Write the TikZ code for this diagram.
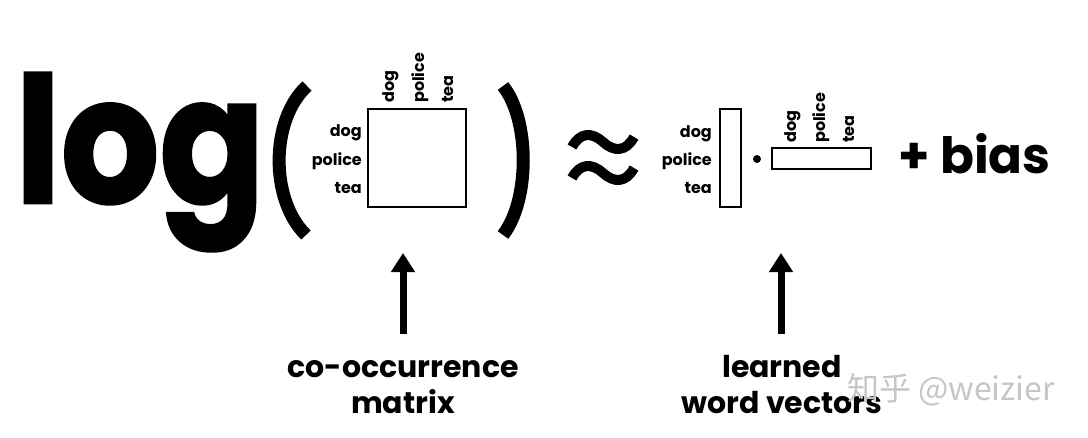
\documentclass[tikz,border=0pt]{standalone}
\usepackage{fontspec}
\setmainfont{Poppins}
\newfontfamily\heavy{Poppins}[BoldFeatures={FakeBold=1.5}]
\newfontfamily\cjk{Noto Sans CJK SC}
\usetikzlibrary{arrows.meta}
\begin{document}
\begin{tikzpicture}[x=1pt,y=-1pt,
  lbl/.style={font=\fontsize{16}{16}\selectfont\bfseries, inner sep=0pt},
  collbl/.style={lbl, rotate=90, anchor=base west},
  rowlbl/.style={lbl, anchor=base east},
  box/.style={draw, line width=2pt, inner sep=0pt},
  paren/.style={line width=13pt},
  wave/.style={line width=10pt},
  uparrow/.style={line width=7pt, -{Triangle[length=19pt,width=23pt]}},
  caption/.style={font=\fontsize{30}{36}\selectfont\bfseries, inner sep=0pt, anchor=base}]
\fill[white] (0,0) rectangle (1088,437);
\useasboundingbox (0,0) rectangle (1088,437);

% log(
\node[anchor=base west, inner sep=0pt, font=\fontsize{176}{176}\selectfont\heavy\bfseries] (log) at (15,203) {\scalebox{0.88}[1]{log}};
\draw[paren] (307,86) .. controls (270,120) and (270,200) .. (306,235);
\draw[paren] (503,86) .. controls (530,120) and (530,200) .. (503,235);

% co-occurrence matrix
\node[box, minimum width=98pt, minimum height=98pt] (M) at (417,158) {};
\node[rowlbl] (mr1) at (362,136) {dog};
\node[rowlbl] (mr2) at (362,165) {police};
\node[rowlbl] (mr3) at (362,193) {tea};
\node[collbl] (mc1) at (394,103) {dog};
\node[collbl] (mc2) at (424,103) {police};
\node[collbl] (mc3) at (453,103) {tea};

% approx
\draw[wave] (572,147) .. controls (580,132) and (592,132) .. (603,142) .. controls (614,152) and (626,152) .. (634,137);
\draw[wave] (572,178) .. controls (580,163) and (592,163) .. (603,173) .. controls (614,183) and (626,183) .. (634,168);

% word vectors
\node[box, minimum width=21pt, minimum height=98pt] (V) at (730.5,158) {};
\node[rowlbl] (vr1) at (712,137) {dog};
\node[rowlbl] (vr2) at (712,165) {police};
\node[rowlbl] (vr3) at (712,193) {tea};
\node[circle, fill, inner sep=0pt, minimum size=8pt] (dot) at (757,159) {};
\node[box, minimum width=99pt, minimum height=21pt] (H) at (821.5,158.5) {};
\node[collbl] (hc1) at (796,143) {dog};
\node[collbl] (hc2) at (825,143) {police};
\node[collbl] (hc3) at (854,143) {tea};

% + bias
\node[anchor=base west, inner sep=0pt, font=\fontsize{50}{50}\selectfont\bfseries] (bias) at (898,173) {+ bias};

% arrows and captions
\node[caption] (c1a) at (403,377) {co-occurrence};
\node[caption] (c1b) at (403,413) {matrix};
\node[caption] (c2a) at (782,377) {learned};
\node[caption] (c2b) at (782,413) {word vectors};
\coordinate (a1s) at (403,334);
\coordinate (a1e) at (403,253);
\coordinate (a2s) at (781,334);
\coordinate (a2e) at (781,253);
\draw[uparrow] (a1s) -- (a1e);
\draw[uparrow] (a2s) -- (a2e);

% watermark
\node[anchor=base west, inner sep=0pt, text=gray!45, font=\cjk\fontsize{32}{32}\selectfont] (wm) at (847,400) {知乎 @weizier};
\end{tikzpicture}
\end{document}
